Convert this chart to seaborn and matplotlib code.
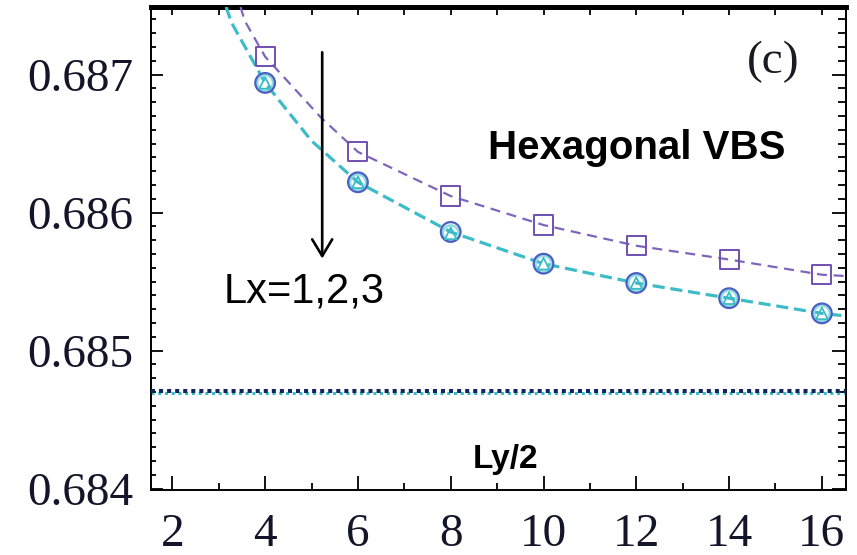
import matplotlib
matplotlib.use("Agg")
import matplotlib.pyplot as plt
import seaborn as sns
import pandas as pd
from matplotlib.ticker import MultipleLocator

# ---------------- data ----------------
L = [4, 6, 8, 10, 12, 14, 16]
lx1 = [0.68713, 0.68644, 0.68612, 0.68591, 0.68576, 0.68566, 0.68555]
lx2 = [0.68694, 0.68622, 0.68586, 0.68563, 0.68549, 0.68538, 0.68527]
lx3 = [0.68694, 0.68622, 0.68585, 0.68563, 0.68549, 0.68538, 0.68527]

# dashed fit curves
fit1_x = [3.47, 3.56, 4, 5.2, 6, 8, 10, 12, 14, 16, 16.55]
fit1_y = [0.68749, 0.68739, 0.68713, 0.68669, 0.68644, 0.68612, 0.68591,
          0.68576, 0.68566, 0.68555, 0.68554]
fit2_x = [3.16, 3.27, 4, 5.0, 6, 8, 10, 12, 14, 16, 16.55]
fit2_y = [0.68749, 0.68738, 0.68694, 0.68652, 0.68622, 0.68586, 0.68563,
          0.68549, 0.68538, 0.68527, 0.68525]

# Ly/2 limits (dotted horizontal lines)
ly2_dark = 0.684706
ly2_cyan = 0.684692

xticks = [2, 4, 6, 8, 10, 12, 14, 16]
xtick_labels = ["2", "4", "6", "8", "10", "12", "14", "16"]
yticks = [0.684, 0.685, 0.686, 0.687]
ytick_labels = ["0.684", "0.685", "0.686", "0.687"]

arrow_x = 5.23
arrow_top = 0.687162
arrow_tip = 0.685667

# ---------------- styling ----------------
sns.set_style("ticks")
plt.rcParams["font.family"] = ["Liberation Sans", "DejaVu Sans"]
plt.rcParams["text.color"] = "black"

purple = "#7050b0"
purple_line = "#8064bc"
blue = "#4a5fc2"
cyan = "#3dbcc8"
navy = "#0d2660"
tick_color = "#15152a"

fig = plt.figure(figsize=(8.57, 5.55), dpi=100)
ax = fig.add_axes([151 / 857, 1 - 490 / 555, (846 - 151) / 857, (490 - 7) / 555])

# dotted Ly/2 lines
ax.axhline(ly2_cyan, color=cyan, lw=2.2, ls=(0, (1, 1.2)), zorder=2)
ax.axhline(ly2_dark, color=navy, lw=2.9, ls=(0, (1, 1)), zorder=3)

# dashed fit lines
df_f1 = pd.DataFrame({"x": fit1_x, "y": fit1_y})
df_f2 = pd.DataFrame({"x": fit2_x, "y": fit2_y})
sns.lineplot(data=df_f1, x="x", y="y", ax=ax, color=purple_line, lw=1.6,
             dashes=False, estimator=None, sort=True, zorder=4)
ax.lines[-1].set_linestyle((0, (4.5, 3)))
sns.lineplot(data=df_f2, x="x", y="y", ax=ax, color=cyan, lw=2.3,
             dashes=False, estimator=None, sort=True, zorder=4)
ax.lines[-1].set_linestyle((0, (3.8, 1.8)))

# markers
df = pd.DataFrame({"L": L, "lx1": lx1, "lx2": lx2, "lx3": lx3})
sns.scatterplot(data=df, x="L", y="lx1", ax=ax, marker="s", s=190,
                facecolor="none", edgecolor=purple, linewidth=1.4, zorder=6)
sns.scatterplot(data=df, x="L", y="lx2", ax=ax, marker="o", s=200,
                facecolor="none", edgecolor=blue, linewidth=1.6, zorder=6)
sns.scatterplot(data=df, x="L", y="lx3", ax=ax, marker="o", s=130,
                facecolor="none", edgecolor="#8edbe0", linewidth=1.8, zorder=5)
sns.scatterplot(data=df, x="L", y="lx3", ax=ax, marker="^", s=70,
                facecolor="none", edgecolor=cyan, linewidth=1.3, zorder=7)

# arrow
ax.annotate("", xy=(arrow_x, arrow_tip), xytext=(arrow_x, arrow_top),
            arrowprops=dict(arrowstyle="->, head_length=0.6, head_width=0.36",
                            mutation_scale=20, lw=1.9, color="black",
                            shrinkA=0, shrinkB=0), zorder=8)

# texts
ax.text(4.845, 0.68535, "Lx=1,2,3", fontsize=30, ha="center", va="baseline",
        color="black", family=["Liberation Sans", "DejaVu Sans"])
ax.text(12.0, 0.686391, "Hexagonal VBS", fontsize=29, fontweight="bold",
        ha="center", va="baseline", color="black",
        family=["Liberation Sans", "DejaVu Sans"])
ax.text(9.18, 0.684152, "Ly/2", fontsize=24, fontweight="bold",
        ha="center", va="baseline", color="black",
        family=["Liberation Sans", "DejaVu Sans"])
ax.text(14.95, 0.687094, "(c)", fontsize=34, ha="center", va="center",
        color="#1a1a22", family=["Liberation Serif", "DejaVu Serif"])

# axes limits / ticks
ax.set_xlim(1.54, 16.52)
ax.set_ylim(0.68399, 0.68749)
ax.set_xticks(xticks)
ax.set_xticklabels(xtick_labels)
ax.set_yticks(yticks)
ax.set_yticklabels(ytick_labels)
ax.xaxis.set_minor_locator(MultipleLocator(1))
ax.yaxis.set_minor_locator(MultipleLocator(0.0001))
ax.set_xlabel("")
ax.set_ylabel("")

for lab in ax.get_xticklabels() + ax.get_yticklabels():
    lab.set_family(["Liberation Serif", "DejaVu Serif"])
    lab.set_fontsize(34)
    lab.set_color(tick_color)

ax.tick_params(axis="x", which="major", direction="in", length=10, width=1.3,
               pad=17, top=False, bottom=True, color="black")
ax.tick_params(axis="x", which="minor", direction="in", length=5, width=1.3,
               top=False, bottom=True, color="black")
ax.tick_params(axis="y", which="major", direction="in", length=8.6, width=1.3,
               pad=13, right=False, left=True, color="black")
ax.tick_params(axis="y", which="minor", direction="in", length=3.6, width=1.3,
               right=False, left=True, color="black")

for side in ["left", "bottom", "right"]:
    ax.spines[side].set_linewidth(1.4)
    ax.spines[side].set_color("black")
ax.spines["top"].set_linewidth(3.4)
ax.spines["top"].set_color("black")

# top ticks (all short)
sec_top = ax.secondary_xaxis("top")
sec_top.set_xticks(xticks)
sec_top.xaxis.set_minor_locator(MultipleLocator(1))
sec_top.tick_params(axis="x", which="both", direction="in", length=5.5,
                    width=1.3, labeltop=False, color="black")
sec_top.spines["top"].set_linewidth(3.4)
sec_top.spines["top"].set_color("black")

# right ticks
sec_right = ax.secondary_yaxis("right")
sec_right.set_yticks(yticks)
sec_right.yaxis.set_minor_locator(MultipleLocator(0.0001))
sec_right.tick_params(axis="y", which="major", direction="in", length=10,
                      width=1.3, labelright=False, color="black")
sec_right.tick_params(axis="y", which="minor", direction="in", length=5.8,
                      width=1.3, labelright=False, color="black")
sec_right.spines["right"].set_linewidth(1.4)
sec_right.spines["right"].set_color("black")

fig.savefig("out.png", dpi=100)
